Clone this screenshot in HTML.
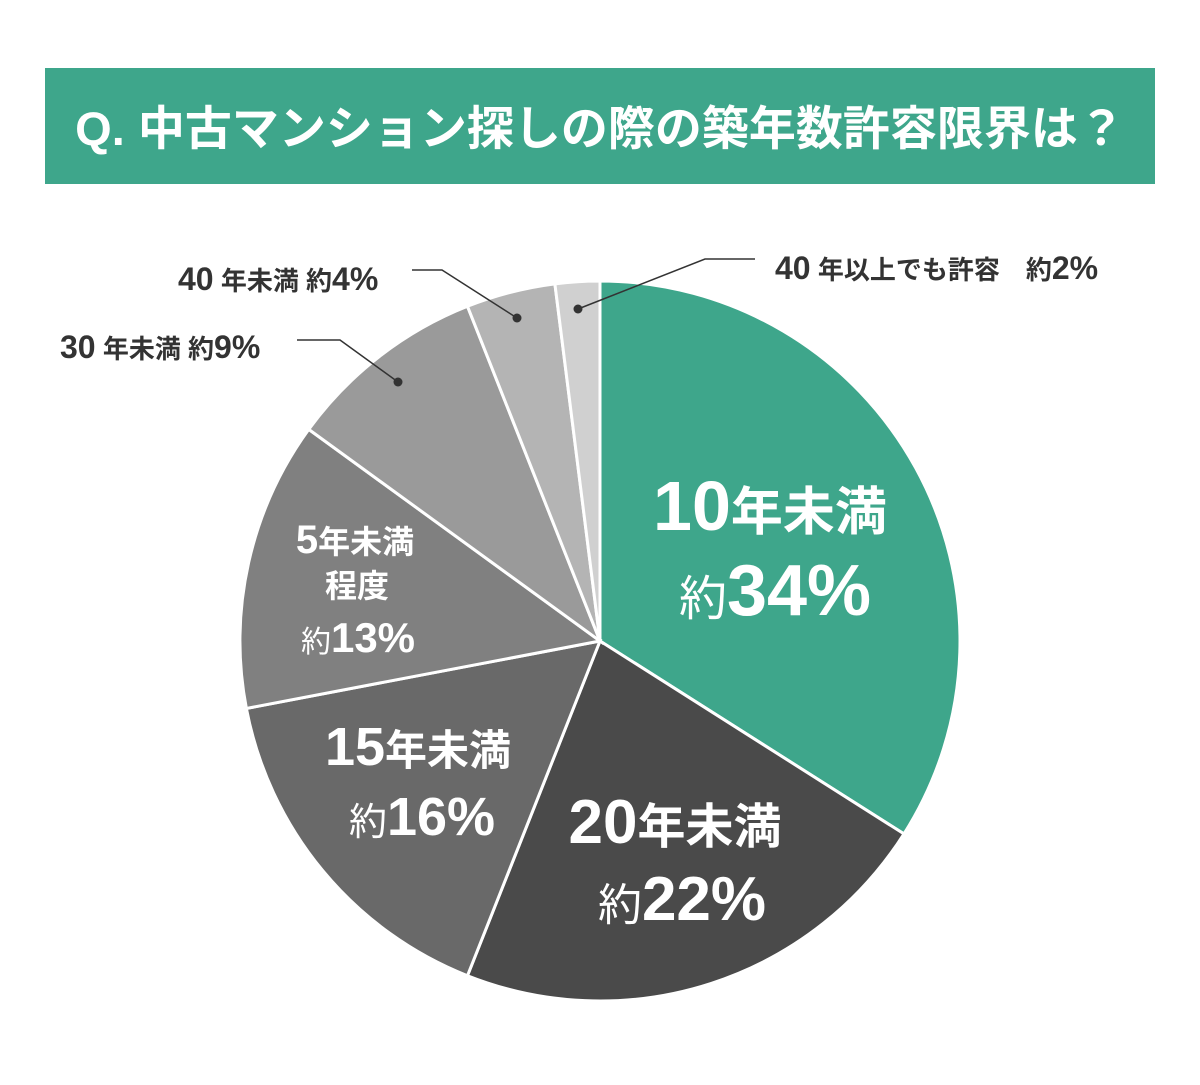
<!DOCTYPE html>
<html><head><meta charset="utf-8"><style>
html,body{margin:0;padding:0;background:#fff;}
body{width:1200px;height:1080px;overflow:hidden;font-family:"Liberation Sans","Noto Sans CJK JP",sans-serif;}
</style></head><body>
<svg id="chart" width="1200" height="1080" viewBox="0 0 1200 1080" xmlns="http://www.w3.org/2000/svg">
<rect x="45" y="68" width="1110" height="116" fill="#3ea68b"/>
<text x="600" y="145" text-anchor="middle" fill="#fff" font-size="47" font-weight="bold" font-family="Liberation Sans,Noto Sans CJK JP,sans-serif">Q. 中古マンション探しの際の築年数許容限界は？</text>
<g id="slices"></g>
<g id="labels" font-family="Liberation Sans Narrow,Liberation Sans,Noto Sans CJK JP,sans-serif" font-weight="bold">
<text x="770" y="530" text-anchor="middle" fill="#fff"><tspan font-size="70">10</tspan><tspan font-size="52">年未満</tspan></text>
<text x="775" y="615" text-anchor="middle" fill="#fff"><tspan font-size="48" font-weight="normal">約</tspan><tspan font-size="72">34%</tspan></text>
<text x="675" y="843" text-anchor="middle" fill="#fff"><tspan font-size="62">20</tspan><tspan font-size="48">年未満</tspan></text>
<text x="682" y="920" text-anchor="middle" fill="#fff"><tspan font-size="44" font-weight="normal">約</tspan><tspan font-size="62">22%</tspan></text>
<text x="418" y="765" text-anchor="middle" fill="#fff"><tspan font-size="54">15</tspan><tspan font-size="42">年未満</tspan></text>
<text x="422" y="835" text-anchor="middle" fill="#fff"><tspan font-size="38" font-weight="normal">約</tspan><tspan font-size="54">16%</tspan></text>
<text x="355" y="553" text-anchor="middle" fill="#fff"><tspan font-size="40">5</tspan><tspan font-size="32">年未満</tspan></text>
<text x="357" y="597" text-anchor="middle" fill="#fff" font-size="32">程度</text>
<text x="358" y="652" text-anchor="middle" fill="#fff"><tspan font-size="30" font-weight="normal">約</tspan><tspan font-size="42">13%</tspan></text>
<text x="60" y="358" fill="#333"><tspan font-size="32">30</tspan><tspan font-size="26"> 年未満 約</tspan><tspan font-size="32">9%</tspan></text>
<text x="178" y="290" fill="#333"><tspan font-size="32">40</tspan><tspan font-size="26"> 年未満 約</tspan><tspan font-size="32">4%</tspan></text>
<text x="775" y="279" fill="#333"><tspan font-size="32">40</tspan><tspan font-size="26"> 年以上でも許容　約</tspan><tspan font-size="32">2%</tspan></text>
</g>
<g id="leaders" stroke="#333" stroke-width="1.5" fill="none">
<polyline points="297,340 340,340 398,382"/>
<polyline points="412,270 442,270 517,318"/>
<polyline points="755,259 705,259 578,309"/>
</g>
<g fill="#333">
<circle cx="398" cy="382" r="4.5"/>
<circle cx="517" cy="318" r="4.5"/>
<circle cx="578" cy="309" r="4.5"/>
</g>
</svg>
<script>
const categories = ["10年未満","20年未満","15年未満","5年未満程度","30年未満","40年未満","40年以上でも許容"];
const values = [34,22,16,13,9,4,2];
const colors = ["#3ea68b","#4a4a4a","#696969","#808080","#9a9a9a","#b4b4b4","#d0d0d0"];
const cx=600, cy=641, r=360;
const g=document.getElementById('slices');
const total=values.reduce((a,b)=>a+b,0);
let a0=0;
function pt(a){return [cx+r*Math.sin(a*2*Math.PI), cy-r*Math.cos(a*2*Math.PI)];}
values.forEach((v,i)=>{
  const a1=a0+v/total;
  const p0=pt(a0), p1=pt(a1);
  const large=(a1-a0)>0.5?1:0;
  const p=document.createElementNS('http://www.w3.org/2000/svg','path');
  p.setAttribute('d',`M${cx},${cy} L${p0[0]},${p0[1]} A${r},${r} 0 ${large} 1 ${p1[0]},${p1[1]} Z`);
  p.setAttribute('fill',colors[i]);
  p.setAttribute('stroke','#fff');
  p.setAttribute('stroke-width','3');
  
  
  g.appendChild(p);
  a0=a1;
});
</script>
</body></html>
